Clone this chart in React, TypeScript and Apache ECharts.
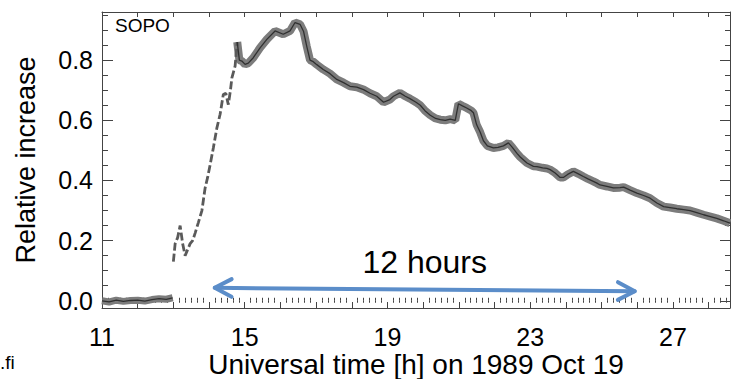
import React, { useEffect, useRef } from 'react';
import * as echarts from 'echarts';

const FONT = "'Liberation Sans', Arial, Helvetica, sans-serif";
const ARROW_COLOR = '#5B8DC9';

// Quiet period before onset (UT hours, relative increase)
const quietHours = [11.0, 11.2, 11.4, 11.6, 11.8, 12.0, 12.2, 12.4, 12.6, 12.8, 12.98];
const quietValues = [0.0, -0.004, 0.002, -0.002, 0.001, 0.002, -0.001, 0.004, 0.007, 0.005, 0.01];

// Onset / steep rise (dashed in the original trace)
const onsetHours = [13.0, 13.05, 13.12, 13.19, 13.26, 13.33, 13.4, 13.47, 13.54, 13.61, 13.7, 13.8, 13.89, 13.96, 14.03, 14.12, 14.22, 14.31, 14.4, 14.47, 14.54, 14.6, 14.64, 14.73, 14.79];
const onsetValues = [0.13, 0.19, 0.21, 0.25, 0.19, 0.15, 0.17, 0.19, 0.2, 0.225, 0.26, 0.3, 0.375, 0.41, 0.452, 0.508, 0.575, 0.62, 0.686, 0.69, 0.652, 0.7, 0.741, 0.78, 0.86];

// Main event and decay
const mainHours = [
  14.79, 14.85, 14.92, 15.01, 15.1, 15.24, 15.43, 15.62, 15.85, 16.08, 16.27, 16.41, 16.55, 16.65, 16.74, 16.83,
  16.92, 17.02, 17.2, 17.39, 17.58, 17.77, 17.95, 18.14, 18.33, 18.51, 18.7, 18.89, 19.07, 19.17, 19.35, 19.5,
  19.63, 19.8, 19.92, 20.05, 20.2, 20.35, 20.48, 20.62, 20.76, 20.9, 20.99, 21.1, 21.22, 21.35, 21.41, 21.5,
  21.6, 21.69, 21.8, 21.97, 22.1, 22.25, 22.39, 22.5, 22.63, 22.72, 22.91, 23.09, 23.19, 23.35, 23.47, 23.56,
  23.7, 23.84, 23.93, 24.05, 24.21, 24.35, 24.49, 24.62, 24.77, 24.87, 24.96, 25.15, 25.33, 25.52, 25.62, 25.8,
  25.99, 26.18, 26.36, 26.55, 26.74, 26.92, 27.11, 27.3, 27.48, 27.67, 27.86, 28.05, 28.23, 28.42, 28.6,
];
const mainValues = [
  0.86, 0.8, 0.797, 0.786, 0.79, 0.808, 0.841, 0.869, 0.897, 0.886, 0.897, 0.925, 0.919, 0.895, 0.845, 0.8,
  0.795, 0.785, 0.769, 0.755, 0.736, 0.725, 0.713, 0.71, 0.702, 0.69, 0.68, 0.66, 0.669, 0.68, 0.691, 0.68,
  0.672, 0.66, 0.65, 0.632, 0.617, 0.606, 0.602, 0.6, 0.604, 0.6, 0.655, 0.648, 0.641, 0.632, 0.625, 0.585,
  0.56, 0.532, 0.515, 0.508, 0.51, 0.515, 0.525, 0.51, 0.49, 0.478, 0.458, 0.447, 0.446, 0.442, 0.44, 0.436,
  0.425, 0.41, 0.41, 0.42, 0.43, 0.422, 0.413, 0.405, 0.397, 0.391, 0.385, 0.38, 0.375, 0.376, 0.378, 0.368,
  0.358, 0.35, 0.341, 0.325, 0.313, 0.31, 0.306, 0.303, 0.3, 0.293, 0.286, 0.28, 0.274, 0.266, 0.258,
];

const xLabelHours = [11, 15, 19, 23, 27];
const xMajorTicks = [11, 12, 13, 14, 15, 16, 17, 18, 19, 20, 21, 22, 23, 24, 25, 26, 27, 28];
const yLabelTicks = [0, 0.2, 0.4, 0.6, 0.8];
const yMinorTicks = [0.05, 0.1, 0.15, 0.25, 0.3, 0.35, 0.45, 0.5, 0.55, 0.65, 0.7, 0.75, 0.85, 0.9, 0.95];

// 12-hour annotation arrow (start hour, value, end hour, value)
const arrowStart = [14.16, 0.043];
const arrowEnd = [25.93, 0.032];
const arrowLabel = '12 hours';

const X_MIN = 11;
const X_MAX = 28.6;
const Y_MIN = -0.024;
const Y_MAX = 0.96;

// minor ticks every 10 minutes
const xMinorTicks: number[] = [];
for (let k = 1; k < (X_MAX - X_MIN) * 6; k++) {
  if (k % 6 !== 0) xMinorTicks.push(+(X_MIN + k / 6).toFixed(4));
}

const pairs = (h: number[], v: number[]) => h.map((x, i) => [x, v[i]]);

const AXIS_COLOR = '#444';

function makeX(position: 'top' | 'bottom', ticks: number[], len: number, labels: boolean, extra: any = {}) {
  return {
    type: 'value',
    position,
    min: X_MIN,
    max: X_MAX,
    axisLine: { show: true, onZero: false, lineStyle: { color: AXIS_COLOR, width: 1 } },
    axisTick: { show: true, inside: true, length: len, customValues: ticks, lineStyle: { color: AXIS_COLOR, width: 1 } },
    axisLabel: labels
      ? {
          show: true,
          customValues: xLabelHours,
          formatter: (v: number) => String(v),
          fontSize: 25,
          lineHeight: 24,
          color: '#000',
          fontFamily: FONT,
          margin: 17,
        }
      : { show: false },
    splitLine: { show: false },
    ...extra,
  };
}

function makeY(position: 'left' | 'right', ticks: number[], len: number, labels: boolean, extra: any = {}) {
  return {
    type: 'value',
    position,
    min: Y_MIN,
    max: Y_MAX,
    axisLine: { show: true, onZero: false, lineStyle: { color: AXIS_COLOR, width: 1 } },
    axisTick: { show: true, inside: true, length: len, customValues: ticks, lineStyle: { color: AXIS_COLOR, width: 1 } },
    axisLabel: labels
      ? {
          show: true,
          customValues: yLabelTicks,
          formatter: (v: number) => v.toFixed(1),
          fontSize: 25,
          color: '#000',
          fontFamily: FONT,
          margin: 9,
        }
      : { show: false },
    splitLine: { show: false },
    ...extra,
  };
}

function traceSeries(name: string, data: number[][], band: number, dashed = false) {
  const out: any[] = [];
  if (!dashed) {
    out.push({
      name: name + '-band',
      type: 'line',
      data,
      showSymbol: false,
      silent: true,
      lineStyle: { color: '#7c7c7c', width: band, cap: 'butt', join: 'bevel' },
      z: 3,
    });
    out.push({
      name,
      type: 'line',
      data,
      showSymbol: false,
      silent: true,
      lineStyle: { color: '#303030', width: 1.3 },
      z: 4,
    });
  } else {
    out.push({
      name,
      type: 'line',
      data,
      showSymbol: false,
      silent: true,
      lineStyle: { color: '#5a5a5a', width: 2.8, type: [8, 3] },
      z: 4,
    });
  }
  return out;
}

export default function App() {
  const ref = useRef<HTMLDivElement>(null);

  useEffect(() => {
    if (!ref.current) return;
    const chart = echarts.init(ref.current, null, { renderer: 'svg' });

    const option: any = {
      animation: false,
      backgroundColor: '#fff',
      grid: { left: 102, right: 1, top: 12, bottom: 71, containLabel: false, outerBoundsMode: 'none' },
      xAxis: [
        makeX('bottom', xMajorTicks, 6, true, {
          name: 'Universal time [h] on 1989 Oct 19',
          nameLocation: 'middle',
          nameGap: 44,
          nameMoveOverlap: false,
          nameTextStyle: { fontSize: 28, lineHeight: 24, color: '#000', fontFamily: FONT },
        }),
        makeX('bottom', xMinorTicks, 3, false, { axisLine: { show: false } }),
        makeX('top', xMajorTicks, 5, false),
        makeX('top', xMinorTicks, 2, false, { axisLine: { show: false } }),
      ],
      yAxis: [
        makeY('left', yLabelTicks, 11, true, {
          name: 'Relative increase',
          nameLocation: 'middle',
          nameRotate: 90,
          nameGap: 63,
          nameMoveOverlap: false,
          nameTextStyle: { fontSize: 27, color: '#000', fontFamily: FONT },
        }),
        makeY('left', yMinorTicks, 6, false, { axisLine: { show: false } }),
        makeY('right', yLabelTicks, 10, false),
        makeY('right', yMinorTicks, 5, false, { axisLine: { show: false } }),
      ],
      series: [
        ...traceSeries('SOPO quiet', pairs(quietHours, quietValues), 7),
        ...traceSeries('SOPO onset', pairs(onsetHours, onsetValues), 3, true),
        ...traceSeries('SOPO', pairs(mainHours, mainValues), 8),
        {
          name: 'span',
          type: 'custom',
          silent: true,
          z: 10,
          encode: { x: [0, 2], y: [1, 3] },
          data: [[arrowStart[0], arrowStart[1], arrowEnd[0], arrowEnd[1]]],
          renderItem: (_params: any, api: any) => {
            const a = api.coord([api.value(0), api.value(1)]);
            const b = api.coord([api.value(2), api.value(3)]);
            const ang = Math.atan2(b[1] - a[1], b[0] - a[0]);
            const L = 19;
            const sp = Math.PI / 6.5;
            const head = (p: number[], dir: number) => [
              [p[0] + L * Math.cos(dir + sp), p[1] + L * Math.sin(dir + sp)],
              [p[0], p[1]],
              [p[0] + L * Math.cos(dir - sp), p[1] + L * Math.sin(dir - sp)],
            ];
            const style = { stroke: ARROW_COLOR, lineWidth: 4, fill: null, lineCap: 'round', lineJoin: 'round' };
            const mx = (a[0] + b[0]) / 2;
            const my = (a[1] + b[1]) / 2;
            return {
              type: 'group',
              children: [
                { type: 'line', shape: { x1: a[0], y1: a[1], x2: b[0], y2: b[1] }, style },
                { type: 'polyline', shape: { points: head(a, ang) }, style },
                { type: 'polyline', shape: { points: head(b, ang + Math.PI) }, style },
                {
                  type: 'text',
                  x: mx,
                  y: my - 12,
                  style: {
                    text: arrowLabel,
                    fill: '#000',
                    font: `32px ${FONT}`,
                    align: 'center',
                    verticalAlign: 'bottom',
                  },
                },
              ],
            };
          },
        },
      ],
      graphic: [
        {
          type: 'text',
          left: 115,
          top: 16,
          style: { text: 'SOPO', fill: '#000', font: `19px ${FONT}` },
        },
        {
          type: 'text',
          left: 0,
          top: 353,
          style: { text: '.fi', fill: '#000', font: `19px ${FONT}` },
        },
      ],
    };

    chart.setOption(option);
    return () => chart.dispose();
  }, []);

  return (
    <div
      ref={ref}
      style={{ position: 'fixed', left: 0, top: 0, width: 731, height: 379, background: '#fff' }}
    />
  );
}
